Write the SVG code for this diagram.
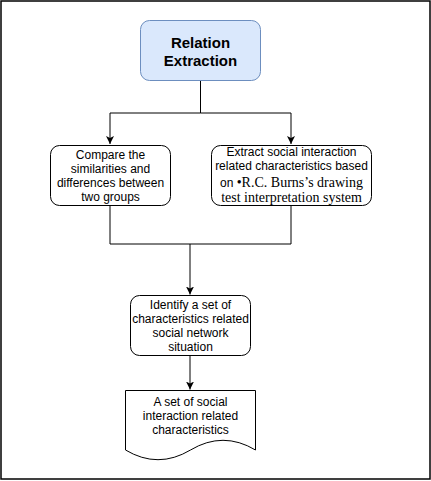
<svg xmlns="http://www.w3.org/2000/svg" width="431" height="481" viewBox="0 0 431 481">
<style>
.box{fill:#ffffff;stroke:#000000;stroke-width:1}
.t{font-family:"Liberation Sans",Arial,sans-serif;font-size:12px;fill:#000000;text-anchor:middle}
.serif{font-family:"Liberation Serif","Times New Roman",serif;font-size:14px}
.title{font-family:"Liberation Sans",Arial,sans-serif;font-size:15px;font-weight:bold;fill:#000000;text-anchor:middle}
.edge{fill:none;stroke:#000000;stroke-width:1}
</style>
<defs>
<marker id="arr" markerUnits="userSpaceOnUse" markerWidth="10" markerHeight="10" refX="8" refY="4" orient="auto">
<path d="M0,0 L8,4 L0,8 L2,4 Z" fill="#000000"/>
</marker>
</defs>
<rect x="1" y="1" width="429" height="478" fill="#ffffff" stroke="#000000" stroke-width="1.5"/>
<g id="connectors">
<path class="edge" d="M200.5,80 V113 H110 V144" marker-end="url(#arr)"/>
<path class="edge" d="M200.5,113 H291 V144" marker-end="url(#arr)"/>
<path class="edge" d="M110,205 V244 H190 V294.5" marker-end="url(#arr)"/>
<path class="edge" d="M291,205 V244 H190"/>
<path class="edge" d="M190,355.5 V389.5" marker-end="url(#arr)"/>
</g>
<g id="relation-extraction">
<rect x="140.5" y="20.5" width="120" height="60" rx="9" fill="#dae8fc" stroke="#6c8ebf" stroke-width="1"/>
<text class="title" x="200.5" y="47.5">Relation</text>
<text class="title" x="200.5" y="65.5">Extraction</text>
</g>
<g id="compare">
<rect class="box" x="50.5" y="145.5" width="120" height="60" rx="9"/>
<text class="t" x="110.5" y="159">Compare the</text>
<text class="t" x="110.5" y="173">similarities and</text>
<text class="t" x="110.5" y="187">differences between</text>
<text class="t" x="110.5" y="201">two groups</text>
</g>
<g id="extract">
<rect class="box" x="211.5" y="145.5" width="160" height="60" rx="9"/>
<text class="t" x="291.5" y="156">Extract social interaction</text>
<text class="t" x="291.5" y="170">related characteristics based</text>
<text class="t" x="291.5" y="186.5">on <tspan class="serif">•R.C. Burns’s drawing</tspan></text>
<text class="t serif" x="291.5" y="201.5">test interpretation system</text>
</g>
<g id="identify">
<rect class="box" x="130.5" y="295.5" width="120" height="60" rx="9"/>
<text class="t" x="190.5" y="309">Identify a set of</text>
<text class="t" x="190.5" y="323">characteristics related</text>
<text class="t" x="190.5" y="337">social network</text>
<text class="t" x="190.5" y="351">situation</text>
</g>
<g id="result-document">
<path class="box" d="M125.5,390.5 H255.5 V450 Q223,430.6 190.5,450 Q158,469.4 125.5,450 Z"/>
<text class="t" x="190.5" y="406">A set of social</text>
<text class="t" x="190.5" y="420">interaction related</text>
<text class="t" x="190.5" y="434">characteristics</text>
</g>
</svg>
